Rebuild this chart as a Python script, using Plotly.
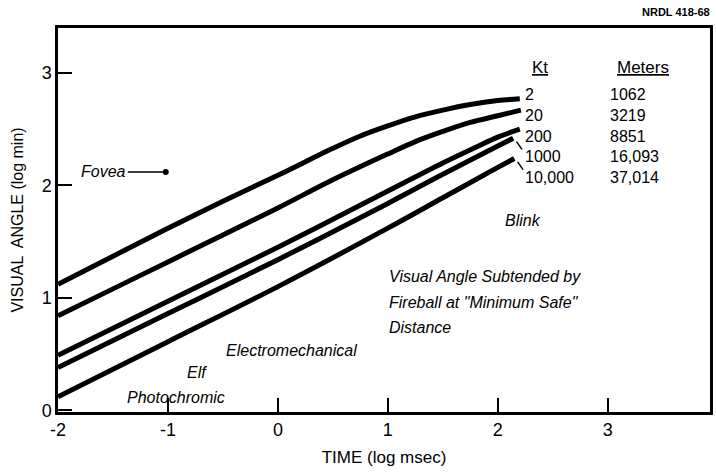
import plotly.graph_objects as go

# Visual angle (log min) vs. time (log msec) for several yields
yields_kt = ["2", "20", "200", "1000", "10,000"]
distances_m = ["1062", "3219", "8851", "16,093", "37,014"]

curve_x = {
    "2": [-2.0, -1.5, -1.0, -0.5, 0.0, 0.5, 0.75, 1.0, 1.25, 1.5, 1.75, 2.0, 2.2],
    "20": [-2.0, -1.5, -1.0, -0.5, 0.0, 0.5, 1.0, 1.25, 1.5, 1.75, 2.0, 2.21],
    "200": [-2.0, -1.0, 0.0, 1.0, 1.5, 1.8, 2.0, 2.2],
    "1000": [-2.0, -1.0, 0.0, 1.0, 1.5, 2.0, 2.14],
    "10,000": [-2.0, -1.0, 0.0, 1.0, 1.5, 2.0, 2.15],
}
curve_y = {
    "2": [1.12, 1.37, 1.62, 1.86, 2.09, 2.33, 2.44, 2.53, 2.61, 2.67, 2.72, 2.755, 2.77],
    "20": [0.84, 1.08, 1.32, 1.56, 1.8, 2.05, 2.28, 2.39, 2.48, 2.56, 2.62, 2.67],
    "200": [0.49, 0.97, 1.45, 1.95, 2.2, 2.34, 2.43, 2.5],
    "1000": [0.38, 0.86, 1.34, 1.84, 2.1, 2.35, 2.42],
    "10,000": [0.12, 0.61, 1.1, 1.62, 1.89, 2.16, 2.24],
}

INK = "black"
FONT = "Liberation Sans"

fig = go.Figure()
for kt in yields_kt:
    fig.add_trace(go.Scatter(
        x=curve_x[kt], y=curve_y[kt], mode="lines",
        line=dict(color=INK, width=5, shape="spline", smoothing=1.0),
        name=kt + " Kt", showlegend=False, hoverinfo="skip",
    ))

annotations = []

# Column headers
annotations.append(dict(x=2.38, y=3.05, text="Kt", showarrow=False,
                        xanchor="center", yanchor="middle",
                        font=dict(family=FONT, size=17, color=INK, lineposition="under")))
annotations.append(dict(x=3.32, y=3.05, text="Meters", showarrow=False,
                        xanchor="center", yanchor="middle",
                        font=dict(family=FONT, size=17, color=INK, lineposition="under")))

# Table columns, one text block each
table_font = dict(family=FONT, size=16, color=INK)
annotations.append(dict(x=2.23, y=2.44, text="<br>".join(yields_kt), showarrow=False,
                        xanchor="left", yanchor="middle", align="left", font=table_font))
annotations.append(dict(x=3.0, y=2.44, text="<br>".join(distances_m), showarrow=False,
                        xanchor="left", yanchor="middle", align="left", font=table_font))

# Leader ticks joining the two lowest curves to their labels
shapes = []
for kt in ["1000", "10,000"]:
    x0, y0 = curve_x[kt][-1], curve_y[kt][-1]
    shapes.append(dict(type="line", xref="x", yref="y",
                       x0=x0 + 0.03, y0=y0 - 0.03, x1=x0 + 0.08, y1=y0 - 0.1,
                       line=dict(color=INK, width=1.5)))

italic = dict(family=FONT, size=16, color=INK)
annotations += [
    dict(x=-1.02, y=2.12, ax=-62, ay=0, text="<i>Fovea</i>", showarrow=True,
         arrowhead=6, arrowsize=1, arrowwidth=1.5, arrowcolor=INK, font=italic),
    dict(x=2.23, y=1.69, text="<i>Blink</i>", showarrow=False, font=italic),
    dict(x=0.99, y=1.19, text="<i>Visual Angle Subtended by</i>", showarrow=False,
         xanchor="left", font=italic),
    dict(x=0.99, y=0.96, text="<i>Fireball at \"Minimum Safe\"</i>", showarrow=False,
         xanchor="left", font=italic),
    dict(x=0.99, y=0.74, text="<i>Distance</i>", showarrow=False,
         xanchor="left", font=italic),
    dict(x=-0.49, y=0.53, text="<i>Electromechanical</i>", showarrow=False,
         xanchor="left", font=italic),
    dict(x=-0.74, y=0.34, text="<i>Elf</i>", showarrow=False, font=italic),
    dict(x=-0.93, y=0.11, text="<i>Photochromic</i>", showarrow=False, font=italic),
    dict(x=1.0, y=1.0, xref="paper", yref="paper", xanchor="right", yanchor="bottom",
         xshift=2, yshift=8, text="<b>NRDL 418-68</b>", showarrow=False,
         font=dict(family=FONT, size=11, color=INK)),
]

axis_common = dict(
    showline=True, linecolor=INK, linewidth=2.5, mirror=True,
    ticks="inside", ticklen=14, tickwidth=2, tickcolor=INK,
    showgrid=False, zeroline=False,
    tickfont=dict(family=FONT, size=18, color=INK),
)

x_ticks = [-2, -1, 0, 1, 2, 3]
y_ticks = [0, 1, 2, 3]

fig.update_layout(
    width=716, height=473,
    margin=dict(l=58, r=3, t=28, b=61),
    paper_bgcolor="white", plot_bgcolor="white",
    xaxis=dict(range=[-2, 3.93], tickvals=x_ticks, ticktext=[str(v) for v in x_ticks],
               title=dict(text="TIME (log msec)", standoff=12,
                          font=dict(family=FONT, size=17, color=INK)),
               **axis_common),
    yaxis=dict(range=[-0.015, 3.4], tickvals=y_ticks, ticktext=[str(v) for v in y_ticks],
               title=dict(text="VISUAL  ANGLE (log min)", standoff=15,
                          font=dict(family=FONT, size=16, color=INK)),
               **axis_common),
    annotations=annotations,
    shapes=shapes,
)

fig.write_html("out.html")
